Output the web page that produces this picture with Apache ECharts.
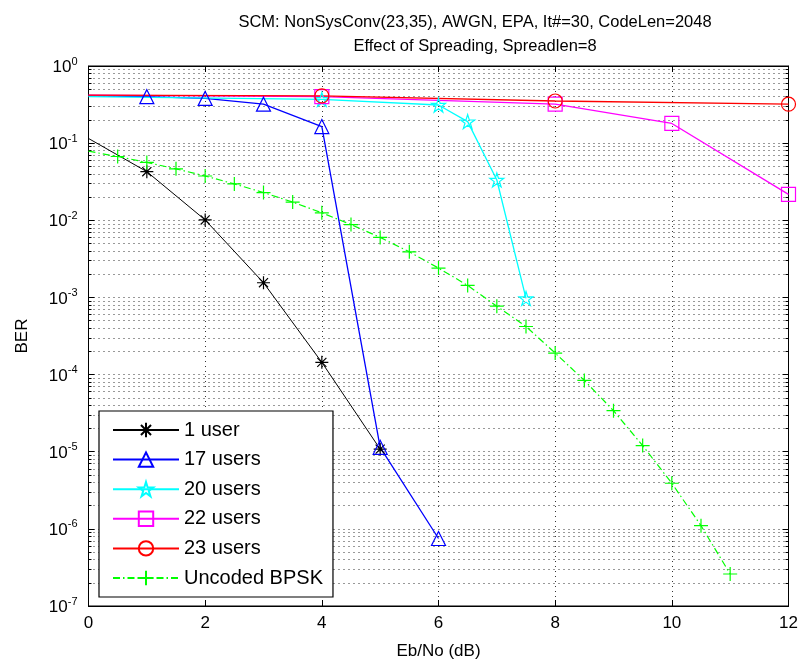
<!DOCTYPE html>
<html>
<head>
<meta charset="utf-8">
<script src="https://cdn.jsdelivr.net/npm/echarts@6/dist/echarts.min.js"></script>
<style>
html,body{margin:0;padding:0;background:#fff;}
#chart{width:801px;height:666px;}
</style>
</head>
<body>
<div id="chart"></div>
<script>
// ---- data ----
const titleLine1 = 'SCM: NonSysConv(23,35), AWGN, EPA, It#=30, CodeLen=2048';
const titleLine2 = 'Effect of Spreading, Spreadlen=8';
const xAxisName = 'Eb/No (dB)';
const yAxisName = 'BER';
const seriesNames = ['1 user', '17 users', '20 users', '22 users', '23 users', 'Uncoded BPSK'];

const xUser1 = [0, 1, 2, 3, 4, 5];
const berUser1 = [0.115, 0.0427, 0.0101, 0.00155, 0.000144, 0.0000108];

const xUsers17 = [0, 1, 2, 3, 4, 5, 6];
const berUsers17 = [0.41, 0.40, 0.38, 0.32, 0.164, 0.0000114, 0.00000075];

const xUsers20 = [0, 4, 6, 6.5, 7, 7.5];
const berUsers20 = [0.40, 0.37, 0.312, 0.19, 0.0333, 0.00097];

const xUsers22 = [0, 4, 8, 10, 12];
const berUsers22 = [0.42, 0.40, 0.32, 0.18, 0.0217];

const xUsers23 = [0, 4, 8, 12];
const berUsers23 = [0.42, 0.41, 0.352, 0.32];

const xBpsk = [0, 0.5, 1, 1.5, 2, 2.5, 3, 3.5, 4, 4.5, 5, 5.5, 6, 6.5, 7, 7.5, 8, 8.5, 9, 9.5, 10, 10.5, 11];
const berBpsk = [0.0786, 0.0671, 0.0563, 0.0464, 0.0375, 0.0296, 0.0229, 0.0172, 0.0125, 0.0088, 0.0060, 0.0039,
                 0.0024, 0.00143, 0.00077, 0.00042, 0.00019, 0.000084, 0.000034, 0.000012, 0.0000039, 0.0000011, 0.00000026];

const xTicks = [0, 2, 4, 6, 8, 10, 12];
const yExponents = [0, -1, -2, -3, -4, -5, -6, -7];

// ---- styling ----
const FONT = "'Liberation Sans', Arial, sans-serif";
const SYM_ASTERISK = 'path://M0,-1L0,1M-1,0L1,0M-0.7,-0.7L0.7,0.7M-0.7,0.7L0.7,-0.7';
const SYM_PLUS = 'path://M0,-1L0,1M-1,0L1,0';
const SYM_STAR = 'path://M0,-1L0.2245,-0.309L0.951,-0.309L0.363,0.118L0.588,0.809L0,0.382L-0.588,0.809L-0.363,0.118L-0.951,-0.309L-0.2245,-0.309Z';

function pairs(xs, ys) {
  return xs.map((x, i) => {
    const item = { value: [x, ys[i]] };
    if (x === 0) item.symbol = 'none';
    return item;
  });
}

function makeSeries(name, xs, ys, color, symbol, size, lineType, width) {
  return {
    name: name,
    type: 'line',
    data: pairs(xs, ys),
    symbol: symbol,
    symbolSize: size,
    showAllSymbol: true,
    clip: false,
    silent: true,
    animation: false,
    emphasis: { disabled: true },
    lineStyle: { color: color, width: width, type: lineType },
    itemStyle: { color: 'rgba(0,0,0,0)', borderColor: color, borderWidth: 1.2 }
  };
}

const series = [
  makeSeries(seriesNames[0], xUser1, berUser1, '#000000', SYM_ASTERISK, 13, 'solid', 1),
  makeSeries(seriesNames[1], xUsers17, berUsers17, '#0000ff', 'triangle', 14, 'solid', 1.3),
  makeSeries(seriesNames[2], xUsers20, berUsers20, '#00ffff', SYM_STAR, 14, 'solid', 1.3),
  makeSeries(seriesNames[3], xUsers22, berUsers22, '#ff00ff', 'rect', 14, 'solid', 1.3),
  makeSeries(seriesNames[4], xUsers23, berUsers23, '#ff0000', 'circle', 14, 'solid', 1.3),
  makeSeries(seriesNames[5], xBpsk, berBpsk, '#00ff00', SYM_PLUS, 14, [7, 3, 1.5, 3], 1.2)
];

const dotted = { color: '#333', width: 1, type: [1, 4] };

const yLabelFmt = v => {
  const e = Math.round(Math.log10(v));
  return '{b|10}{e|' + e + '}';
};
const yRich = {
  b: { fontFamily: FONT, fontSize: 17, color: '#000', lineHeight: 20, verticalAlign: 'bottom' },
  e: { fontFamily: FONT, fontSize: 11, color: '#000', lineHeight: 20, verticalAlign: 'top', padding: [0, 0, 10, 0] }
};

const chart = echarts.init(document.getElementById('chart'), null, { renderer: 'canvas' });
chart.setOption({
  animation: false,
  backgroundColor: '#fff',
  title: {
    text: titleLine1 + '\n' + titleLine2,
    left: 470,
    top: 5,
    textAlign: 'center',
    textStyle: { fontFamily: FONT, fontSize: 16.5, fontWeight: 'normal', color: '#000', lineHeight: 24 }
  },
  grid: { left: 88.5, right: 12.5, top: 66, bottom: 60, show: true, borderColor: '#000', borderWidth: 1, backgroundColor: '#fff' },
  legend: {
    orient: 'vertical',
    left: 99,
    top: 411,
    data: seriesNames,
    itemWidth: 66,
    itemHeight: 18,
    itemGap: 9.6,
    padding: [9, 10, 9, 13],
    backgroundColor: '#fff',
    borderColor: '#000',
    borderWidth: 1.2,
    borderRadius: 0,
    selectedMode: false,
    textStyle: { fontFamily: FONT, fontSize: 20, color: '#000', lineHeight: 20 }
  },
  xAxis: [{
    type: 'value',
    min: xTicks[0],
    max: xTicks[xTicks.length - 1],
    interval: 2,
    name: xAxisName,
    nameLocation: 'middle',
    nameGap: 37,
    nameTextStyle: { fontFamily: FONT, fontSize: 17, color: '#000' },
    axisLine: { show: true, onZero: false, lineStyle: { color: '#000', width: 1 } },
    axisTick: { show: true, inside: true, length: 6, lineStyle: { color: '#000' } },
    axisLabel: { fontFamily: FONT, fontSize: 17, color: '#000', margin: 9 },
    splitLine: { show: true, lineStyle: dotted }
  }, {
    type: 'value',
    position: 'top',
    min: xTicks[0],
    max: xTicks[xTicks.length - 1],
    interval: 2,
    axisLine: { show: true, onZero: false, lineStyle: { color: '#000', width: 1 } },
    axisTick: { show: true, inside: true, length: 6, lineStyle: { color: '#000' } },
    axisLabel: { show: false },
    splitLine: { show: false }
  }],
  yAxis: [{
    type: 'log',
    logBase: 10,
    min: Math.pow(10, yExponents[yExponents.length - 1]),
    max: Math.pow(10, yExponents[0]),
    interval: 1,
    name: yAxisName,
    nameLocation: 'middle',
    nameRotate: 90,
    nameGap: 58,
    nameTextStyle: { fontFamily: FONT, fontSize: 17, color: '#000' },
    axisLine: { show: true, onZero: false, lineStyle: { color: '#000', width: 1 } },
    axisTick: { show: true, inside: true, length: 6, lineStyle: { color: '#000' } },
    minorTick: { show: true, splitNumber: 9, length: 3, lineStyle: { color: '#000' } },
    axisLabel: { formatter: yLabelFmt, rich: yRich, margin: 11 },
    splitLine: { show: true, lineStyle: dotted },
    minorSplitLine: { show: true, lineStyle: dotted }
  }, {
    type: 'log',
    logBase: 10,
    position: 'right',
    min: Math.pow(10, yExponents[yExponents.length - 1]),
    max: Math.pow(10, yExponents[0]),
    interval: 1,
    axisLine: { show: true, onZero: false, lineStyle: { color: '#000', width: 1 } },
    axisTick: { show: true, inside: true, length: 6, lineStyle: { color: '#000' } },
    minorTick: { show: true, splitNumber: 9, length: 3, lineStyle: { color: '#000' } },
    axisLabel: { show: false },
    splitLine: { show: false }
  }],
  series: series
});
</script>
</body>
</html>
